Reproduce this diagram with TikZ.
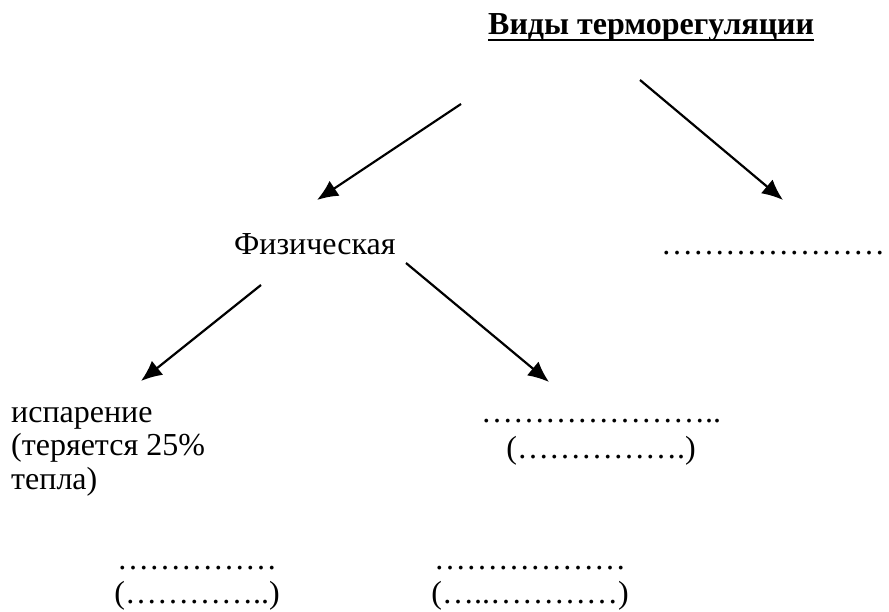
\documentclass[tikz,border=0pt]{standalone}
\usepackage{fontspec}
\setmainfont{Liberation Serif}
\usetikzlibrary{arrows.meta}
\newcommand{\elp}{…}
\tikzset{
  txt/.style={inner sep=0pt, anchor=base west, font=\fontsize{32}{34}\selectfont},
  ctxt/.style={inner sep=0pt, anchor=base, align=center, font=\fontsize{32}{34}\selectfont},
  arr/.style={line width=2.2pt, -{Latex[length=21pt,width=18pt]}}
}
\begin{document}
\begin{tikzpicture}[x=1pt,y=-1pt]
\useasboundingbox (0,0) rectangle (889,612);
\node[txt, font=\fontsize{32}{34}\selectfont\bfseries] (title) at (488,35) {Виды терморегуляции};
\draw[line width=2.6pt] ([yshift=-5pt]title.base west) -- ([yshift=-5pt]title.base east);
\node[txt] (phys) at (234,255) {Физическая};
\node[txt] (other) at (661,255) {\elp\elp\elp\elp\elp\elp\elp};
\node[txt, align=left, font=\fontsize{32}{33.5}\selectfont] (isp) at (11,489) {испарение\\(теряется 25\%\\тепла)};
\node[ctxt, font=\fontsize{32}{36.5}\selectfont] (mid) at (601,458.5) {\elp\elp\elp\elp\elp\elp\elp..\\(\elp\elp\elp\elp\elp.)};
\node[ctxt] (bl) at (197,603) {\elp\elp\elp\elp\elp\\(\elp\elp\elp\elp..)};
\node[ctxt] (br) at (530,603) {\elp\elp\elp\elp\elp\elp\\(\elp..\elp\elp\elp\elp)};
\coordinate (a1s) at (461,104); \coordinate (a1e) at (317,200);
\coordinate (a2s) at (640,80);  \coordinate (a2e) at (783,200);
\coordinate (a3s) at (261,285); \coordinate (a3e) at (141,381);
\coordinate (a4s) at (406,263); \coordinate (a4e) at (549,382);
\draw[arr] (a1s) -- (a1e);
\draw[arr] (a2s) -- (a2e);
\draw[arr] (a3s) -- (a3e);
\draw[arr] (a4s) -- (a4e);
\end{tikzpicture}
\end{document}
